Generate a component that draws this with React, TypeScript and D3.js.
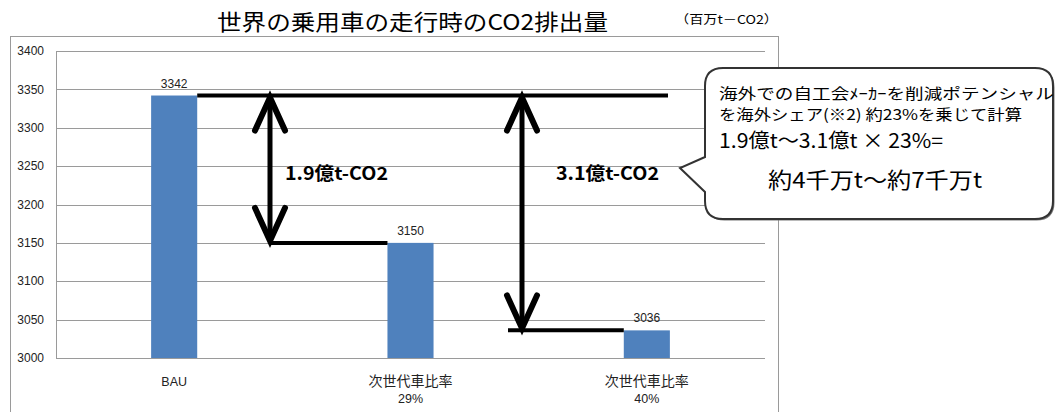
import React from "react";
import * as d3 from "d3";

// Passenger-car CO2 emissions (million t-CO2) by scenario
const categories = ["BAU", "次世代車比率 29%", "次世代車比率 40%"];
const values = [3342, 3150, 3036];
const yTicks = [3000, 3050, 3100, 3150, 3200, 3250, 3300, 3350, 3400];
const reductionLabels = ["1.9億t-CO2", "3.1億t-CO2"];
const calloutLines = [
  "海外での自工会ﾒｰｶｰを削減ポテンシャル",
  "を海外シェア(※2) 約23%を乗じて計算",
  "1.9億t〜3.1億t × 23%=",
  "約4千万t〜約7千万t",
];
const titleText = "世界の乗用車の走行時のCO2排出量";
const unitText = "（百万t－CO2）";

const W = 1057;
const H = 412;
const plot = { left: 56, right: 765, top: 51, bottom: 358 };
const JP = "'Noto Sans CJK JP', 'Noto Sans', sans-serif";
const NUM = "'Liberation Sans', Arial, sans-serif";
const BAR = "#4F81BD";
const GRID = "#9a9a9a";

function arrowHead(x: number, y: number, dir: 1 | -1) {
  // open chevron pointing up (dir=-1) or down (dir=1)
  const dx = 15;
  const dy = 33 * -dir;
  return `M${x - dx},${y + dy}L${x},${y}L${x + dx},${y + dy}`;
}

export default function App() {
  const x = d3
    .scaleBand<string>()
    .domain(categories)
    .range([plot.left, plot.right])
    .paddingInner(0.805)
    .paddingOuter(0.4025);
  const y = d3.scaleLinear().domain([3000, 3400]).range([plot.bottom, plot.top]);
  const bw = x.bandwidth();

  const base = values[0];
  const baseY = y(base);
  const arrowXs = [270, 522];
  const lineStartXs = [270, 508];

  // callout geometry
  const cx0 = 705, cx1 = 1053, cy0 = 68, cy1 = 219, r = 18;
  const callout = `M${cx0 + r},${cy0}L${cx1 - r},${cy0}Q${cx1},${cy0} ${cx1},${cy0 + r}` +
    `L${cx1},${cy1 - r}Q${cx1},${cy1} ${cx1 - r},${cy1}L${cx0 + r},${cy1}Q${cx0},${cy1} ${cx0},${cy1 - r}` +
    `L${cx0},192L680,168L${cx0},157L${cx0},${cy0 + r}Q${cx0},${cy0} ${cx0 + r},${cy0}Z`;

  const isLatin = (s: string) => /^[A-Z0-9%]+$/.test(s);

  return (
    <svg
      width={W}
      height={H}
      style={{ position: "absolute", left: 0, top: 0, background: "#fff" }}
    >
      {/* title + unit */}
      <text x={217} y={30} fontFamily={JP} fontSize={22} textLength={391} lengthAdjust="spacingAndGlyphs" fill="#000">
        {titleText}
      </text>
      <text x={675} y={24} fontFamily={JP} fontSize={12} textLength={103} lengthAdjust="spacingAndGlyphs" fill="#000">
        {unitText}
      </text>

      {/* chart frame */}
      <rect x={10.5} y={36.5} width={768} height={400} fill="#fff" stroke="#9a9a9a" strokeWidth={1} />

      {/* gridlines and y ticks */}
      {yTicks.map((t) => (
        <g key={t}>
          <line x1={plot.left} x2={plot.right} y1={Math.round(y(t)) + 0.5} y2={Math.round(y(t)) + 0.5} stroke={GRID} strokeWidth={1} />
          <text x={44} y={y(t)} dy="0.35em" textAnchor="end" fontFamily={NUM} fontSize={12} fill="#222">
            {t}
          </text>
        </g>
      ))}
      <line x1={plot.left + 0.5} x2={plot.left + 0.5} y1={plot.top} y2={plot.bottom + 0.5} stroke={GRID} />

      {/* bars */}
      {categories.map((c, i) => (
        <g key={c}>
          <rect x={x(c)} y={y(values[i])} width={bw} height={y(3000) - y(values[i])} fill={BAR} />
          <text x={x(c)! + bw / 2} y={y(values[i]) - 8} textAnchor="middle" fontFamily={NUM} fontSize={12} fill="#222">
            {values[i]}
          </text>
          {c.split(" ").map((part, k) => (
            <text
              key={k}
              x={x(c)! + bw / 2}
              y={386 + k * 17}
              textAnchor="middle"
              fontFamily={isLatin(part) ? NUM : JP}
              fontSize={isLatin(part) ? 12.5 : 14}
              fill="#222"
            >
              {part}
            </text>
          ))}
        </g>
      ))}

      {/* baseline reference line from BAU */}
      <line x1={x(categories[0])! + bw} x2={668} y1={baseY} y2={baseY} stroke="#000" strokeWidth={4} />

      {/* reduction arrows */}
      {values.slice(1).map((v, i) => {
        const ax = arrowXs[i];
        const vy = y(v);
        const c = categories[i + 1];
        return (
          <g key={c}>
            <line x1={lineStartXs[i]} x2={x(c)} y1={vy} y2={vy} stroke="#000" strokeWidth={4} />
            <line x1={ax} x2={ax} y1={baseY + 2} y2={vy - 2} stroke="#000" strokeWidth={5} />
            <path d={arrowHead(ax, baseY + 2, -1)} fill="none" stroke="#000" strokeWidth={6} strokeLinecap="round" strokeLinejoin="miter" />
            <path d={arrowHead(ax, vy - 2, 1)} fill="none" stroke="#000" strokeWidth={6} strokeLinecap="round" strokeLinejoin="miter" />
            <text
              x={ax + (i === 0 ? 15 : 34)}
              y={180}
              fontFamily={JP}
              fontWeight={700}
              fontSize={18}
              textLength={103}
              lengthAdjust="spacingAndGlyphs"
              fill="#000"
            >
              {reductionLabels[i]}
            </text>
          </g>
        );
      })}

      {/* callout */}
      <path d={callout} transform="translate(1.5,1.5)" fill="#777" />
      <path d={callout} fill="#fff" stroke="#333" strokeWidth={2} />
      <text x={719} y={99} fontFamily={JP} fontSize={15} textLength={335} lengthAdjust="spacingAndGlyphs" fill="#000">
        {calloutLines[0]}
      </text>
      <text x={719} y={120} fontFamily={JP} fontSize={15} textLength={303} lengthAdjust="spacingAndGlyphs" fill="#000">
        {calloutLines[1]}
      </text>
      <text x={719} y={148} fontFamily={JP} fontSize={20} textLength={224} lengthAdjust="spacingAndGlyphs" fill="#000">
        {calloutLines[2]}
      </text>
      <text x={768} y={188} fontFamily={JP} fontSize={22} textLength={214} lengthAdjust="spacingAndGlyphs" fill="#000">
        {calloutLines[3]}
      </text>
    </svg>
  );
}
